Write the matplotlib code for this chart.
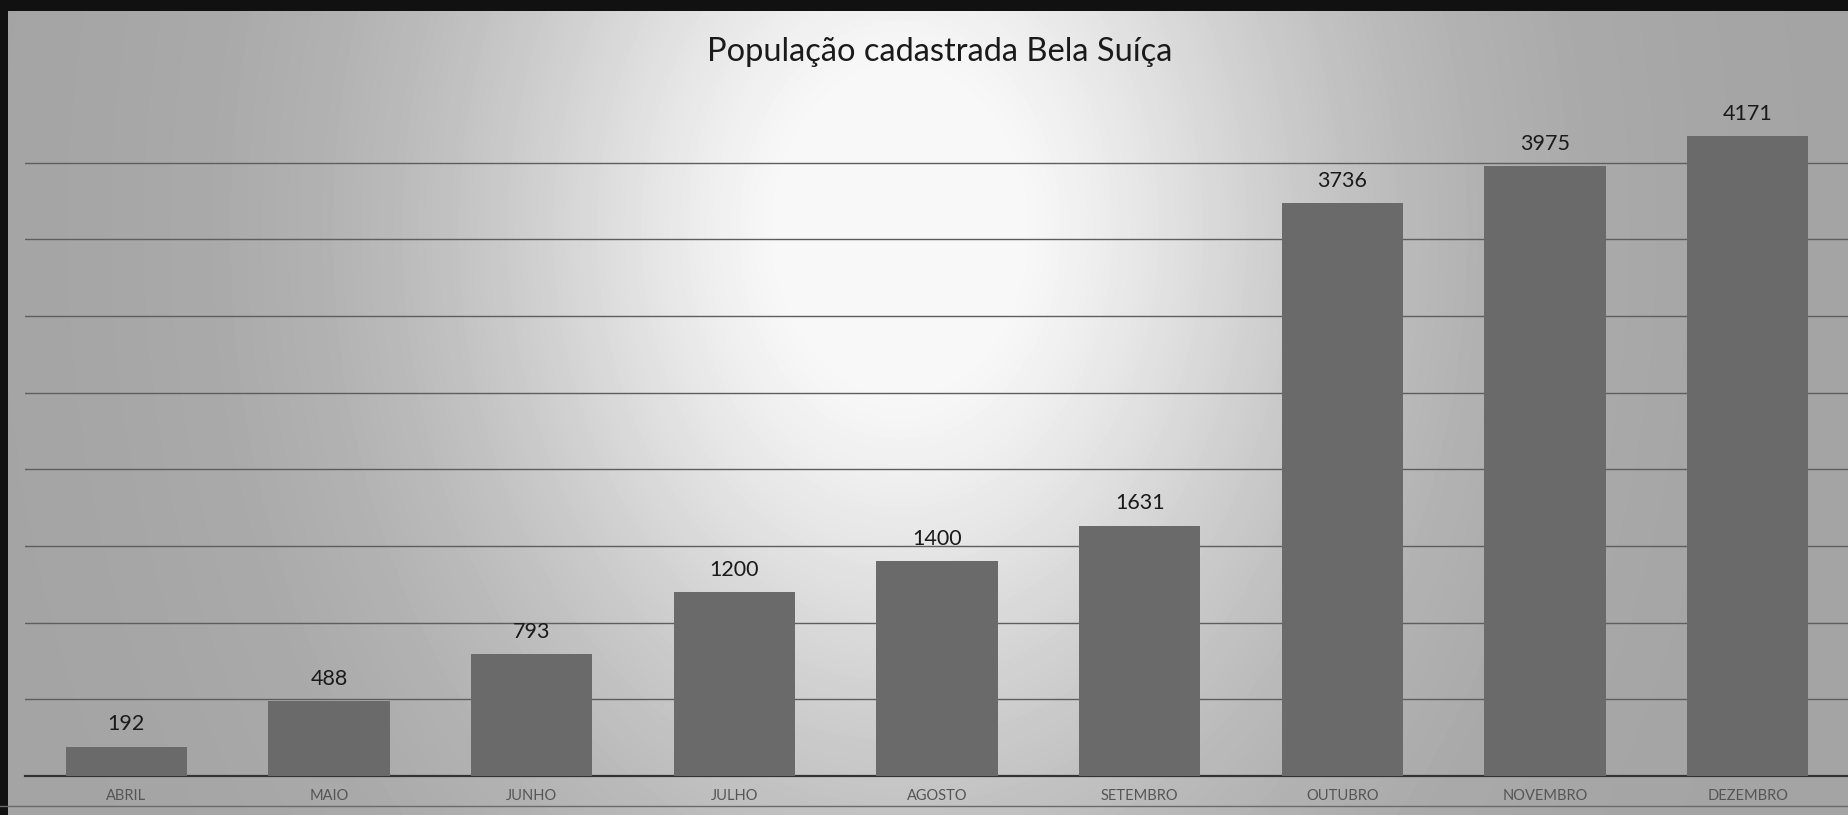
import matplotlib.pyplot as plt
import numpy as np
from matplotlib.patches import Rectangle

# Dados: população cadastrada por mês
meses = ["ABRIL", "MAIO", "JUNHO", "JULHO", "AGOSTO",
         "SETEMBRO", "OUTUBRO", "NOVEMBRO", "DEZEMBRO"]
populacao = [192, 488, 793, 1200, 1400, 1631, 3736, 3975, 4171]
grade = [500, 1000, 1500, 2000, 2500, 3000, 3500, 4000]

W, H, DPI = 1849, 815, 100
fig = plt.figure(figsize=(W / DPI, H / DPI), dpi=DPI)
fig.patch.set_facecolor("#a8a8a8")

# Fundo cinza com a região central mais clara (cópia digitalizada)
bg = fig.add_axes([0, 0, 1, 1], zorder=0)
xx, yy = np.meshgrid(np.arange(W), np.arange(H))
lum = 0.64 + 0.36 * np.exp(-((xx - 900) / 430.0) ** 2 - ((yy - 230) / 560.0) ** 2)
lum = np.clip(lum, 0, 0.97)
bg.imshow(lum, cmap="gray", vmin=0, vmax=1, aspect="auto",
          extent=(0, W, H, 0), interpolation="bilinear")
bg.set_xlim(0, W)
bg.set_ylim(H, 0)
bg.axis("off")

# Bordas escuras da digitalização
bg.add_patch(Rectangle((0, 0), W, 11, color="#111111", lw=0))
bg.add_patch(Rectangle((0, 0), 8, H, color="#111111", lw=0))
bg.axhline(806, color="#6a6a6a", lw=1.0)

ax = fig.add_axes([25 / W, (H - 776) / H, (W - 25) / W, (776 - 86) / H], zorder=1)
ax.set_facecolor("none")

x = np.arange(len(meses))
bars = ax.bar(x, populacao, width=0.6, color="#6a6a6a", zorder=3)

for xi, v in zip(x, populacao):
    ax.annotate(f"{v}", (xi, v), xytext=(0, 9), textcoords="offset points",
                ha="center", va="bottom", fontsize=15.5, color="#1a1a1a",
                family="Lato")

ax.set_xlim(-0.5, len(meses) - 0.5)
ax.set_ylim(0, 4500)
ax.set_yticks(grade)
ax.yaxis.grid(True, color="#5e5e5e", linewidth=1.0)
ax.set_axisbelow(True)
ax.tick_params(axis="y", length=0, labelleft=False)

ax.set_xticks(x)
ax.set_xticklabels(meses, fontsize=10.5, color="#555555", family="Lato")
ax.tick_params(axis="x", length=0, pad=9)

for s in ["top", "right", "left"]:
    ax.spines[s].set_visible(False)
ax.spines["bottom"].set_color("#333333")
ax.spines["bottom"].set_linewidth(1.6)

fig.text(940 / W, 1 - 61 / H, "População cadastrada Bela Suíça",
         ha="center", va="baseline", fontsize=23.5, color="#1a1a1a", family="Lato")

fig.savefig("out.png", dpi=DPI)
